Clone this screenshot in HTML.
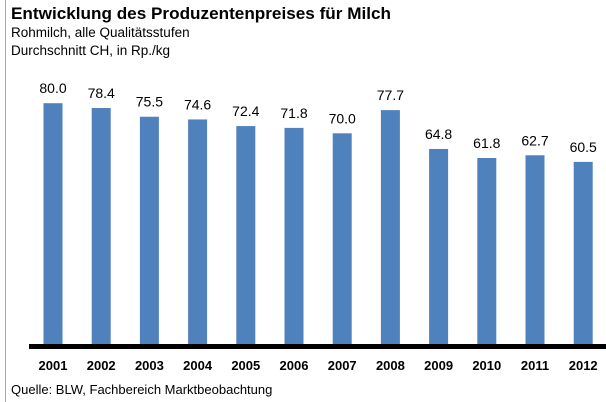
<!DOCTYPE html>
<html><head><meta charset="utf-8"><style>
html,body{margin:0;padding:0;background:#fff;}
svg{display:block;font-family:"Liberation Sans",sans-serif;}
</style></head><body>
<svg id="chart" width="606" height="402">
<line x1="5.5" y1="0" x2="5.5" y2="402" stroke="#aaa" stroke-width="1"/>
<text x="11" y="19" font-size="16.5" font-weight="bold" fill="#000" textLength="380" lengthAdjust="spacingAndGlyphs">Entwicklung des Produzentenpreises für Milch</text>
<text x="11" y="37" font-size="13.5" fill="#000">Rohmilch, alle Qualitätsstufen</text>
<text x="11" y="55" font-size="13.5" fill="#000">Durchschnitt CH, in Rp./kg</text>
<g id="bars"></g>
<rect x="29" y="344" width="577" height="5" fill="#000"/>
<text x="11" y="394" font-size="13" fill="#000">Quelle: BLW, Fachbereich Marktbeobachtung</text>
</svg>
<script>
const years = ["2001","2002","2003","2004","2005","2006","2007","2008","2009","2010","2011","2012"];
const prices = [80.0,78.4,75.5,74.6,72.4,71.8,70.0,77.7,64.8,61.8,62.7,60.5];
const valueLabels = ["80.0","78.4","75.5","74.6","72.4","71.8","70.0","77.7","64.8","61.8","62.7","60.5"];
const ns="http://www.w3.org/2000/svg";
const g=document.getElementById('bars');
const base=344, k=3.01, x0=53, pitch=48.2, bw=19;
function xs(i){return x0+pitch*i;}
function ys(v){return base-v*k;}
years.forEach((yr,i)=>{
  const cx=xs(i), top=ys(prices[i]);
  const r=document.createElementNS(ns,'rect');
  r.setAttribute('x',cx-bw/2);r.setAttribute('y',top);
  r.setAttribute('width',bw);r.setAttribute('height',base-top);
  r.setAttribute('fill','#4f81bd');
  
  
  g.appendChild(r);
  const t=document.createElementNS(ns,'text');
  t.setAttribute('x',cx);t.setAttribute('y',top-10);
  t.setAttribute('text-anchor','middle');t.setAttribute('font-size','14');
  t.textContent=valueLabels[i];
  
  
  g.appendChild(t);
  const l=document.createElementNS(ns,'text');
  l.setAttribute('x',cx);l.setAttribute('y',370);
  l.setAttribute('text-anchor','middle');l.setAttribute('font-size','13');
  l.setAttribute('font-weight','bold');
  l.textContent=yr;
  
  
  g.appendChild(l);
});
</script>
</body></html>
